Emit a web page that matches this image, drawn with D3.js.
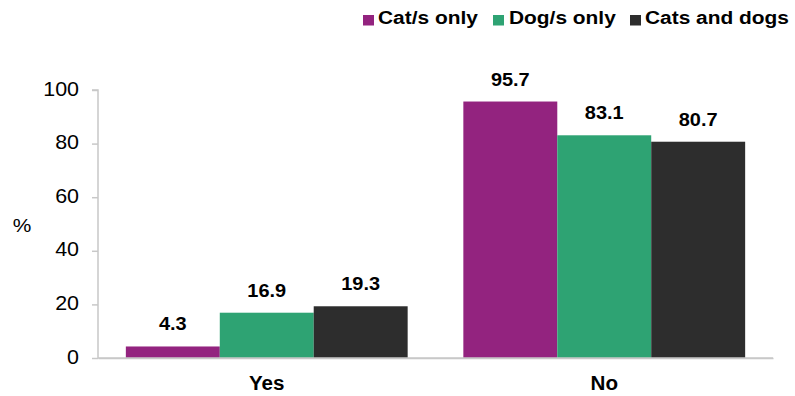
<!DOCTYPE html>
<html><head><meta charset="utf-8">
<script src="https://cdn.jsdelivr.net/npm/d3@7"></script>
<style>body{margin:0;background:#fff}svg{display:block;font-family:"Liberation Sans",Arial,sans-serif}</style>
</head><body><svg id="c" width="795" height="396"></svg>
<script>
const categories = ["Yes", "No"];
const seriesNames = ["Cat/s only", "Dog/s only", "Cats and dogs"];
const catOnly = [4.3, 95.7];
const dogOnly = [16.9, 83.1];
const catsAndDogs = [19.3, 80.7];
const yTicks = [0, 20, 40, 60, 80, 100];
const colors = ["#93237F", "#2EA373", "#2D2D2D"];
const series = [catOnly, dogOnly, catsAndDogs];

(function () {
const svg = d3.select("#c");
const mLeft = 98, mRight = 773, mTop = 90, mBottom = 358;
const FF = "Liberation Sans, Arial, sans-serif";
function hstretch(sel, k) {
  sel.each(function () {
    const x0 = +(this.getAttribute("x") || 0);
    this.setAttribute("x", x0 / k);
    this.setAttribute("transform", `scale(${k},1)`);
  });
}
const x = d3.scaleBand().domain(categories).range([mLeft, mRight]).paddingInner(0.165).paddingOuter(0.0825);
const xs = d3.scaleBand().domain(seriesNames).range([0, x.bandwidth()]);
const y = d3.scaleLinear().domain([0, 100]).range([mBottom, mTop]);

// y axis
const ya = svg.append("g").attr("transform", `translate(${mLeft},0)`)
  .call(d3.axisLeft(y).tickValues(yTicks).tickSize(6).tickPadding(13));
ya.select(".domain").attr("stroke", "#c8c8c8").attr("stroke-width", 1.5).attr("d", `M-6,${mTop}H0V${mBottom}`);
ya.selectAll(".tick line").attr("stroke", "#c8c8c8").attr("stroke-width", 1.5);
ya.selectAll(".tick text").attr("font-size", 19.5).attr("fill", "#000").attr("font-family", FF).attr("dy", "0.26em")
  .call(hstretch, 1.1);

// x axis
const xa = svg.append("g").attr("transform", `translate(0,${mBottom})`)
  .call(d3.axisBottom(x).tickSize(0).tickPadding(18));
xa.select(".domain").attr("stroke", "#c8c8c8").attr("stroke-width", 1.5);
xa.selectAll(".tick text").attr("font-size", 20).attr("font-weight", "bold").attr("fill", "#000").attr("font-family", FF)
  .call(hstretch, 1.03);

// bars
series.forEach((vals, si) => {
  const g = svg.append("g");
  g.selectAll("rect").data(categories).join("rect")
    .attr("x", c => x(c) + xs(seriesNames[si]))
    .attr("width", xs.bandwidth())
    .attr("y", (c, i) => y(vals[i]))
    .attr("height", (c, i) => mBottom - y(vals[i]))
    .attr("fill", colors[si]);
  g.selectAll("text").data(categories).join("text")
    .attr("x", c => x(c) + xs(seriesNames[si]) + xs.bandwidth() / 2)
    .attr("y", (c, i) => y(vals[i]) - 16)
    .attr("text-anchor", "middle")
    .attr("font-size", 19).attr("font-weight", "bold").attr("fill", "#000")
    .text((c, i) => vals[i].toFixed(1))
    .call(hstretch, 1.05);
});
svg.append("line").attr("x1", mLeft).attr("x2", mRight).attr("y1", mBottom).attr("y2", mBottom)
  .attr("stroke", "#c8c8c8").attr("stroke-width", 1.5);

// % label
svg.append("text").attr("x", 22).attr("y", 232).attr("text-anchor", "middle").attr("font-size", 19).text("%")
  .call(hstretch, 1.1);

// legend
const legSq = [363, 493, 630];
const legTx = [378, 509, 645];
seriesNames.forEach((n, i) => {
  svg.append("rect").attr("x", legSq[i]).attr("y", 15).attr("width", 11).attr("height", 10.5).attr("fill", colors[i]);
  svg.append("text").attr("x", legTx[i]).attr("y", 24.5).attr("font-size", 19).attr("font-weight", "bold").text(n)
    .call(hstretch, 1.1);
});
})();
</script></body></html>
